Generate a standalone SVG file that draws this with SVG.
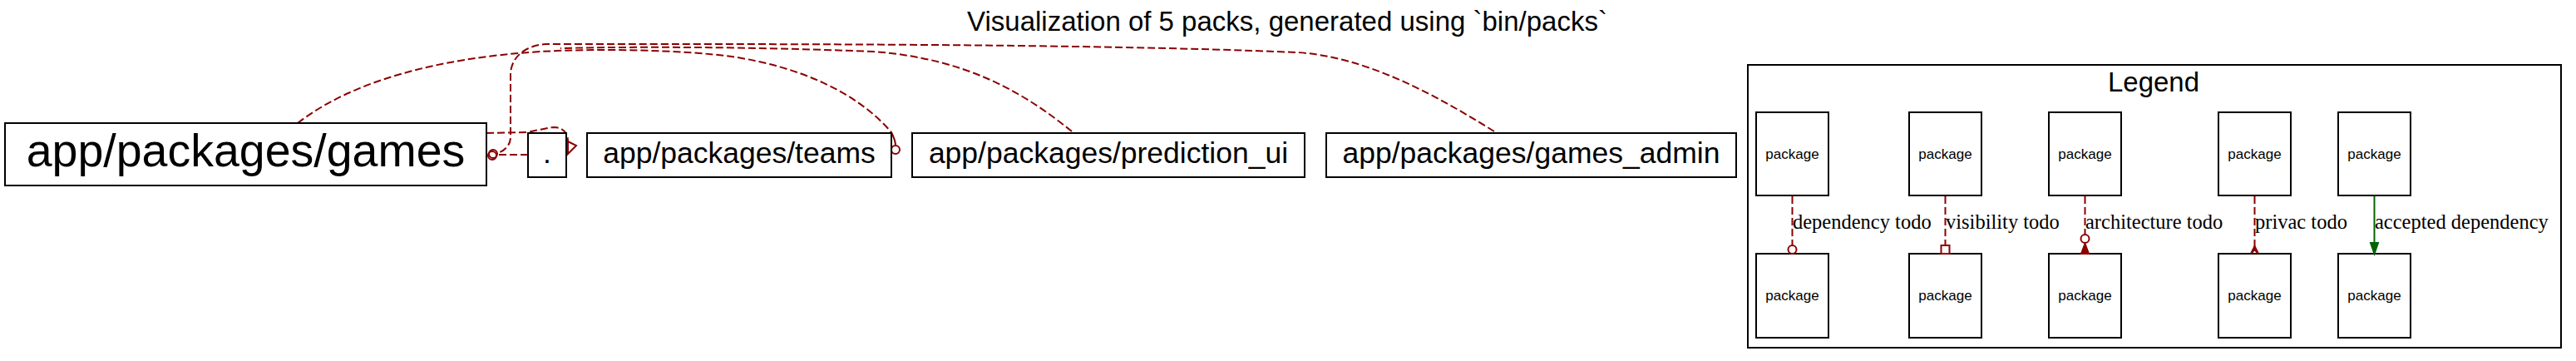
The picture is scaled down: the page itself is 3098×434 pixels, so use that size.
<svg xmlns="http://www.w3.org/2000/svg" width="3098" height="434" viewBox="0 0 3098 434">
<style>
.box{fill:#fff;stroke:#000;stroke-width:2}
.t{font-family:"Liberation Sans",Arial,sans-serif;fill:#000;text-anchor:middle}
.lbl{font-family:"Liberation Serif","Times New Roman",serif;font-size:24.5px;fill:#000}
.e{fill:none;stroke:#8b0000;stroke-width:2;stroke-dasharray:9,4}
.ah{fill:none;stroke:#8b0000;stroke-width:2}
.ahf{fill:#8b0000;stroke:#8b0000;stroke-width:2}
</style>
<rect width="3098" height="434" fill="#fff"/>
<text class="t" x="1548" y="37" font-size="33">Visualization of 5 packs, generated using `bin/packs`</text>
<g id="connectors">
<path class="e" d="M358,148 C420,100 520,70 650,62 C720,58 820,60 880,68 C960,80 1030,110 1072,159"/>
<path class="ah" d="M1072,159 C1075,165 1077,170 1077,175"/>
<circle class="ah" cx="1077" cy="180" r="5"/>
<path class="e" d="M1289,158 C1230,110 1160,70 1050,62 C900,56 760,56 674,58"/>
<path class="e" d="M1797,158 C1720,110 1640,68 1560,63 C1300,52 900,53 656,53 C630,55 614,70 614,90 L614,165 C614,175 606,182 598,184"/>
<circle class="ah" cx="593" cy="185" r="5"/>
<path class="e" d="M635,186 L598,186"/>
<circle class="ah" cx="592" cy="187" r="5"/>
<path class="e" d="M585,160 L633,159 C650,156 660,153 667,153 C678,154 683,160 683,170"/>
<path class="ah" d="M683,170 L693,175 L683,185 Z"/>
</g>
<g id="node-games"><rect class="box" x="6" y="148" width="579" height="75"/><text class="t" x="295.5" y="200" font-size="55.5">app/packages/games</text></g>
<g id="node-root"><rect class="box" x="635" y="160" width="46" height="53"/><text class="t" x="658" y="196" font-size="35.5">.</text></g>
<g id="node-teams"><rect class="box" x="706" y="160" width="366" height="53"/><text class="t" x="889" y="196" font-size="35.5">app/packages/teams</text></g>
<g id="node-prediction_ui"><rect class="box" x="1097" y="160" width="472" height="53"/><text class="t" x="1333" y="196" font-size="35.5">app/packages/prediction_ui</text></g>
<g id="node-games_admin"><rect class="box" x="1595" y="160" width="493" height="53"/><text class="t" x="1841.5" y="196" font-size="35.5">app/packages/games_admin</text></g>
<g id="legend">
<rect class="box" x="2102" y="78" width="978" height="340"/>
<text class="t" x="2590" y="110" font-size="33">Legend</text>
<g id="legend-nodes" font-size="17">
<rect class="box" x="2112" y="135" width="87" height="100"/><text class="t" x="2155.5" y="191" font-size="17">package</text>
<rect class="box" x="2112" y="305" width="87" height="101"/><text class="t" x="2155.5" y="361" font-size="17">package</text>
<rect class="box" x="2296" y="135" width="87" height="100"/><text class="t" x="2339.5" y="191" font-size="17">package</text>
<rect class="box" x="2296" y="305" width="87" height="101"/><text class="t" x="2339.5" y="361" font-size="17">package</text>
<rect class="box" x="2464" y="135" width="87" height="100"/><text class="t" x="2507.5" y="191" font-size="17">package</text>
<rect class="box" x="2464" y="305" width="87" height="101"/><text class="t" x="2507.5" y="361" font-size="17">package</text>
<rect class="box" x="2668" y="135" width="87" height="100"/><text class="t" x="2711.5" y="191" font-size="17">package</text>
<rect class="box" x="2668" y="305" width="87" height="101"/><text class="t" x="2711.5" y="361" font-size="17">package</text>
<rect class="box" x="2812" y="135" width="87" height="100"/><text class="t" x="2855.5" y="191" font-size="17">package</text>
<rect class="box" x="2812" y="305" width="87" height="101"/><text class="t" x="2855.5" y="361" font-size="17">package</text>
</g>
<g id="legend-edges">
<path class="e" d="M2155.5,236 L2155.5,295"/><circle class="ah" cx="2155.5" cy="300" r="5"/>
<text class="lbl" x="2156" y="275">dependency todo</text>
<path class="e" d="M2339.5,236 L2339.5,295"/><rect class="ah" x="2334.5" y="295" width="10" height="10"/>
<text class="lbl" x="2340" y="275">visibility todo</text>
<path class="e" d="M2507.5,236 L2507.5,282"/><circle class="ah" cx="2507.5" cy="287" r="5"/><path class="ahf" d="M2507.5,293 L2512,305 L2503,305 Z"/>
<text class="lbl" x="2508" y="275">architecture todo</text>
<path class="e" d="M2711.5,236 L2711.5,298"/><path class="ahf" d="M2711.5,296 L2716,305 L2711.5,300 L2707,305 Z"/>
<text class="lbl" x="2712" y="275">privac todo</text>
<path d="M2855.5,236 L2855.5,292" stroke="#006400" stroke-width="2" fill="none"/><path d="M2855.5,305 L2851,292 L2860,292 Z" fill="#006400" stroke="#006400" stroke-width="2"/>
<text class="lbl" x="2856" y="275">accepted dependency</text>
</g>
</g>
</svg>
